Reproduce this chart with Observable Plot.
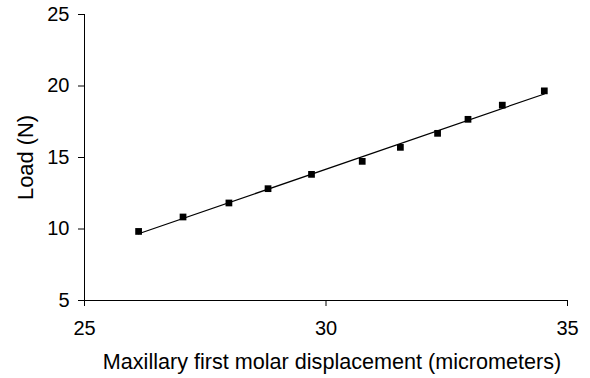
<!DOCTYPE html>
<html><head><meta charset="utf-8">
<script src="https://cdn.jsdelivr.net/npm/d3@7"></script>
<script src="https://cdn.jsdelivr.net/npm/@observablehq/plot@0.6"></script>
<style>body{margin:0;background:#fff;}</style>
</head><body><div id="chart"></div>
<script>
const displacement = [26.12, 27.04, 27.99, 28.80, 29.70, 30.75, 31.54, 32.31, 32.94, 33.65, 34.52];
const load = [9.83, 10.84, 11.82, 12.82, 13.82, 14.73, 15.71, 16.69, 17.67, 18.66, 19.66];
const xTicks = [25, 30, 35];
const yTicks = [5, 10, 15, 20, 25];
const xLabel = "Maxillary first molar displacement (micrometers)";
const yLabel = "Load (N)";

const data = displacement.map((d, i) => ({x: d, y: load[i]}));

const chart = Plot.plot({
  width: 590,
  height: 378,
  marginLeft: 84,
  marginRight: 23,
  marginTop: 14,
  marginBottom: 78,
  style: {fontFamily: "'Liberation Sans', Arial, sans-serif", fontSize: "20px", color: "#000", background: "#fff"},
  x: {domain: [25, 35]},
  y: {domain: [5, 25]},
  marks: [
    Plot.ruleX([25], {stroke: "#000", strokeWidth: 1}),
    Plot.ruleY([5], {stroke: "#000", strokeWidth: 1}),
    Plot.axisX({ticks: xTicks, tickSize: 6, tickPadding: 14, label: null, fontSize: 20}),
    Plot.axisY({ticks: yTicks, tickSize: 6, tickPadding: 9, label: null, fontSize: 20}),
    Plot.linearRegressionY(data, {x: "x", y: "y", ci: 0, stroke: "#000", strokeWidth: 1.2}),
    Plot.dot(data, {x: "x", y: "y", symbol: "square", r: 3.8, fill: "#000", stroke: "none"}),
    Plot.text([xLabel], {frameAnchor: "bottom", lineAnchor: "middle", textAnchor: "middle", dy: 61.3, dx: 6, text: d => d, fontSize: 21.6}),
    Plot.text([yLabel], {frameAnchor: "left", lineAnchor: "middle", textAnchor: "middle", dx: -58, rotate: -90, text: d => d, fontSize: 21.8})
  ]
});
document.getElementById("chart").append(chart);
</script>
</body></html>
